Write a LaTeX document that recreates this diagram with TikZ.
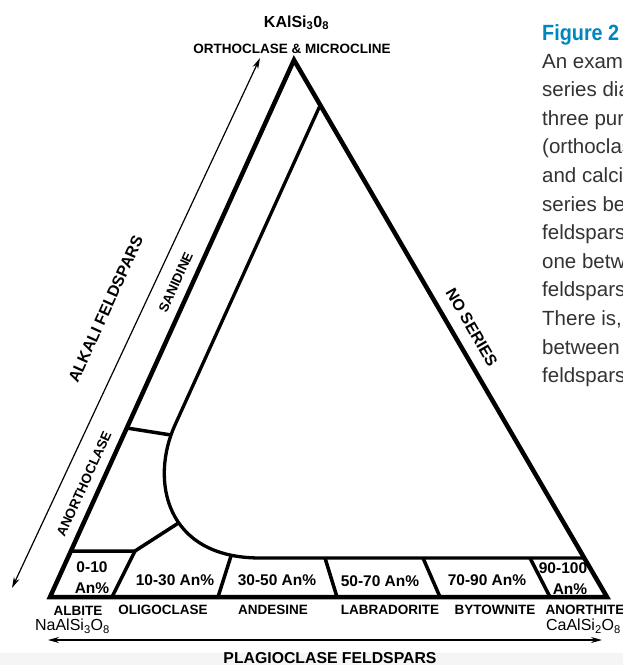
\documentclass[tikz,border=0pt]{standalone}
\usepackage{fontspec}
\usepackage{graphicx}
\setmainfont{Liberation Sans}
\usetikzlibrary{arrows.meta}
\definecolor{figblue}{RGB}{0,134,190}
\definecolor{bodygrey}{RGB}{51,51,51}
\tikzset{
  lab/.style={font=\bfseries\fontsize{13.5}{16}\selectfont, inner sep=0pt, anchor=base},
  pct/.style={font=\bfseries\fontsize{15.5}{18}\selectfont, inner sep=0pt, anchor=base},
  bigbold/.style={font=\bfseries\fontsize{16}{19}\selectfont, inner sep=0pt},
  sidelab/.style={font=\bfseries\fontsize{13.5}{16}\selectfont, inner sep=0pt},
  formula/.style={font=\fontsize{16}{19}\selectfont, inner sep=0pt, anchor=base},
  bodytext/.style={font=\fontsize{20.5}{24}\selectfont, text=bodygrey, inner sep=0pt, anchor=base west},
  outerline/.style={line width=4.5pt, line join=miter},
  innerline/.style={line width=3.3pt, line join=round},
  sepline/.style={line width=3.5pt},
  arrline/.style={line width=1.2pt, {Stealth[length=11pt,width=6pt]}-{Stealth[length=11pt,width=6pt]}}
}
\begin{document}
\begin{tikzpicture}[x=1pt,y=-1pt]
\useasboundingbox (0,0) rectangle (623,665);
\clip (0,0) rectangle (623,665);
\fill[white] (0,0) rectangle (623,665);
\fill[black!4] (0,653) rectangle (623,665);

% main vertices
\coordinate (A) at (294,60);
\coordinate (L) at (50,597);
\coordinate (R) at (607,597);
% inner boundary
\coordinate (itop) at (320.7,104);
\coordinate (c0) at (175,425);
\coordinate (c1) at (150,480);
\coordinate (c2) at (165,558);
\coordinate (c3) at (260,558);
\coordinate (bandR) at (584.3,558);
\coordinate (jn) at (178.5,523);
% separators
\coordinate (s0a) at (126.7,428);
\coordinate (s0b) at (171,435);
\coordinate (boxL) at (70.9,551);
\coordinate (s1t) at (135,551);
\coordinate (s1b) at (112,597);
\coordinate (s2t) at (231,556);
\coordinate (s2b) at (218,597);
\coordinate (s3t) at (325,558);
\coordinate (s3b) at (337,597);
\coordinate (s4t) at (423,558);
\coordinate (s4b) at (440,597);
\coordinate (s5t) at (530,558);
\coordinate (s5b) at (550,597);
% arrow ends
\coordinate (la1) at (12,588);
\coordinate (la2) at (260,58);
\coordinate (ba1) at (48,640);
\coordinate (ba2) at (602,640);

% interior lines
\draw[innerline] (itop) -- (c0) .. controls (c1) and (c2) .. (c3) -- (bandR);
\draw[sepline] (s0a) -- (s0b);
\draw[sepline] (boxL) -- (s1t) -- (jn);
\draw[sepline] (s1t) -- (s1b);
\draw[sepline] (s2t) -- (s2b);
\draw[sepline] (s3t) -- (s3b);
\draw[sepline] (s4t) -- (s4b);
\draw[sepline] (s5t) -- (s5b);

% outer triangle
\draw[outerline] (A) -- (R) -- (L) -- cycle;

% arrows
\draw[arrline] (la1) -- (la2);
\draw[arrline] (ba1) -- (ba2);

% top labels
\node[formula, font=\bfseries\fontsize{16}{19}\selectfont] (kal) at (296.5,27) {KAlSi\textsubscript{3}0\textsubscript{8}};
\node[lab] (orth) at (292,53) {ORTHOCLASE \& MICROCLINE};

% side labels
\node[bigbold, rotate=65.6] (alk) at (105.7,309) {ALKALI FELDSPARS};
\node[sidelab, rotate=65.6] (san) at (175.7,282.3) {SANIDINE};
\node[sidelab, rotate=65.6] (ano) at (84,484) {ANORTHOCLASE};
\node[bigbold, rotate=-59.8] (nos) at (471.7,327.3) {NO SERIES};

% percentages
\node[pct] (p1a) at (92,572.7) {0-10};
\node[pct] (p1b) at (92,593) {An\%};
\node[pct] (p2) at (175,585) {10-30 An\%};
\node[pct] (p3) at (277,585.5) {30-50 An\%};
\node[pct] (p4) at (380,586) {50-70 An\%};
\node[pct] (p5) at (487,585) {70-90 An\%};
\node[pct] (p6a) at (563,573) {90-100};
\node[pct] (p6b) at (570,594) {An\%};

% mineral names
\node[lab] (alb) at (78,615) {ALBITE};
\node[lab] (oli) at (163,614) {OLIGOCLASE};
\node[lab] (and) at (273,614) {ANDESINE};
\node[lab] (lab) at (390,614) {LABRADORITE};
\node[lab] (byt) at (495,614) {BYTOWNITE};
\node[lab] (ant) at (585,614) {ANORTHITE};

% formulas
\node[formula] (na) at (72.5,630.7) {NaAlSi\textsubscript{3}O\textsubscript{8}};
\node[formula] (ca) at (583.5,630.5) {CaAlSi\textsubscript{2}O\textsubscript{8}};

% bottom title
\node[bigbold, anchor=base, font=\bfseries\fontsize{15.8}{19}\selectfont] (plag) at (330,663) {PLAGIOCLASE FELDSPARS};

% caption text
\node[anchor=base west, inner sep=0pt, text=figblue, font=\bfseries\fontsize{22}{26}\selectfont] (fig) at (542,40) {\scalebox{0.9}[1]{Figure 2}};
\node[bodytext] (t1) at (542,68) {An example of a};
\node[bodytext] (t2) at (542,96.6) {series diagram};
\node[bodytext] (t3) at (542,125.2) {three pure};
\node[bodytext] (t4) at (542,153.8) {(orthoclase)};
\node[bodytext] (t5) at (542,182.4) {and calcium};
\node[bodytext] (t6) at (542,211) {series between};
\node[bodytext] (t7) at (542,239.6) {feldspars};
\node[bodytext] (t8) at (542,268.2) {one between};
\node[bodytext] (t9) at (542,296.8) {feldspars};
\node[bodytext] (t10) at (542,325.4) {There is,};
\node[bodytext] (t11) at (542,354) {between};
\node[bodytext] (t12) at (542,382.6) {feldspars};
\end{tikzpicture}
\end{document}
